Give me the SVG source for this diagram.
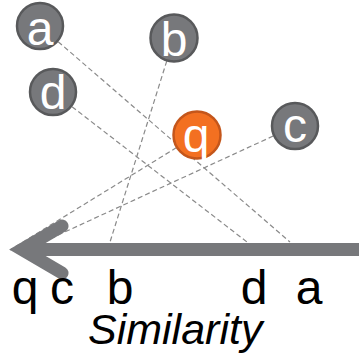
<svg xmlns="http://www.w3.org/2000/svg" width="359" height="356" viewBox="0 0 359 356">
<style>
.node circle{fill:#77787b;stroke:#58595b;stroke-width:2.5}
#q circle{fill:#f37021;stroke:#c4561b}
.node text{fill:#fff;font-family:"Liberation Sans",Arial,sans-serif;font-size:48px;text-anchor:middle}
.conn line{stroke:#8a8a8a;stroke-width:1.2;stroke-dasharray:5 3;fill:none}
.lbl{fill:#000;font-family:"Liberation Sans",Arial,sans-serif;font-size:48px;text-anchor:middle}
</style>
<rect width="359" height="356" fill="#fff"/>
<g id="connectors" class="conn">
<line x1="40" y1="26" x2="290" y2="242"/>
<line x1="174" y1="38" x2="110" y2="242"/>
<line x1="53" y1="92" x2="247" y2="242"/>
<line x1="295" y1="126" x2="30" y2="248"/>
<line x1="197" y1="135" x2="10" y2="250"/>
</g>
<g id="axis">
<path d="M62,226 L22,249.5 L62,273 M22,249.5 L359,249.5" fill="none" stroke="#77787b" stroke-width="13" stroke-linecap="round" stroke-linejoin="miter"/>
<path d="M359,243 L330,243 L330,256 L359,256 Z" fill="#77787b"/>
</g>
<g id="a" class="node"><circle cx="40" cy="26" r="23"/><text x="40" y="45">a</text></g>
<g id="b" class="node"><circle cx="174" cy="38" r="23.5"/><text x="174" y="56">b</text></g>
<g id="d" class="node"><circle cx="53" cy="92" r="23"/><text x="53" y="109">d</text></g>
<g id="c" class="node"><circle cx="295" cy="126" r="23"/><text x="295" y="142">c</text></g>
<g id="q" class="node"><circle cx="197" cy="135" r="23.5"/><text x="196" y="152">q</text></g>
<g id="labels">
<text class="lbl" x="25" y="304">q</text>
<text class="lbl" x="62" y="304">c</text>
<text class="lbl" x="120" y="304">b</text>
<text class="lbl" x="254" y="304">d</text>
<text class="lbl" x="309" y="304">a</text>
<text x="88" y="344" font-family="'Liberation Sans',Arial,sans-serif" font-size="43" font-style="italic" fill="#000">Similarity</text>
</g>
</svg>
